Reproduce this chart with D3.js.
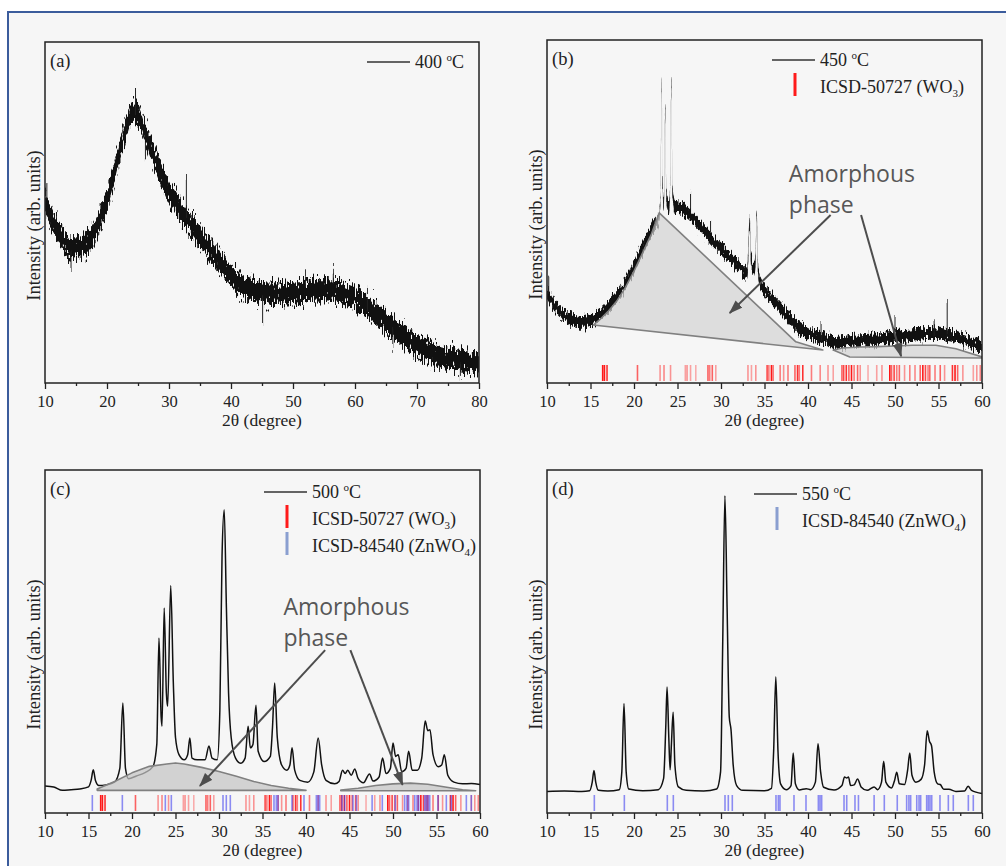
<!DOCTYPE html>
<html>
<head>
<meta charset="utf-8">
<script src="https://cdn.jsdelivr.net/npm/d3@7"></script>
<style>
body { margin: 0; background: #fff; }
svg { display: block; }
</style>
</head>
<body>
<svg id="fig" width="1006" height="866"></svg>
<script>
/** Tick values of the 2theta axes */
var ticksA = [10, 20, 30, 40, 50, 60, 70, 80],
    minorA = [15, 25, 35, 45, 55, 65, 75],
    ticksB = [10, 15, 20, 25, 30, 35, 40, 45, 50, 55, 60],
    minorB = [12.5, 17.5, 22.5, 27.5, 32.5, 37.5, 42.5, 47.5, 52.5, 57.5];

/** (a) 400 C : mean of the noisy trace [2theta, intensity] */
var meanA = [[10,53.7],[11,48.4],[12,44.9],[13,41.9],[14,39.9],[15,39.6],[16,40.5],[17,41.9],[18,44.3],
  [19,48.4],[20,53.7],[21,60.4],[22,67.4],[23,74.2],[24,79.2],[25,78.6],[26,74.2],[27,69.2],[28,64.5],
  [29,60.1],[30,56],[31,53.1],[32,50.1],[33,47.8],[34,45.5],[35,42.8],[36,40.5],[37,38.4],[38,36.1],
  [39,33.7],[40,31.7],[41,29.6],[42,28.2],[43,27.6],[44,27],[45,26.7],[46,26.4],[48,26.4],[50,26.4],
  [52,26.7],[54,27.3],[56,27.3],[58,26.4],[60,24.9],[62,22.3],[64,19.4],[66,16.4],[68,13.5],[70,11.1],
  [72,9.1],[74,7.6],[76,7],[78,6.2],[80,5.9]];
/** (a) single spikes of the trace [2theta, from, to] */
var spikesA = [[10.3,54,59.5],[14.2,38,33],[24.6,80,87],[26.2,72,65],[32.8,49,61],[45.1,26,18],
  [52,27,31],[56.5,28,32.6],[62,22,27],[66.1,16,9.7],[77,6,1.5]];
var noiseA = 3.1;

/** (b) 450 C */
var meanB = [[10,26.2],[11,22.2],[12,19.8],[13,18.4],[14,17.8],[15,18.4],[16,19.8],[17,22.2],[18,25.1],
  [19,29],[20,33.8],[21,39.3],[22,44.6],[22.9,48.4],[23.05,55],[23.2,87.5],[23.3,58],[23.45,52],
  [23.6,80.5],[23.75,54],[24.0,51],[24.15,56],[24.3,87.5],[24.45,56],[24.7,51],[25,51.3],[26,49.9],
  [27,47.5],[28,44.6],[29,41.7],[30,39.3],[31,36.7],[32,34.4],[33,32],[33.15,38],[33.3,47],[33.45,36],
  [33.8,33],[34.0,38],[34.1,49.6],[34.25,34],[34.5,29.4],[35,27.1],[36,24.2],[37,21.3],[38,18.4],
  [39,16],[40,14.6],[41,13.4],[42,13],[43,11.7],[44,12],[46,12.5],[48,12.7],[50,13.4],[52,14],
  [54,14.6],[56,14],[58,12.5],[60,10.5]];
var spikesB = [[10.2,26,31],[26.5,50,55.7],[28.8,44,47.5],[41.5,13,17.5],[50,13,19.3],[54.5,14,18],[56,14,24.2]];
var noiseB = 1.7;
/** (b) amorphous phase outlines */
var amorB1 = [[15.3,16.9],[16,18.3],[17,20.8],[18,23.8],[19,27.8],[20,32.6],[21,38],[22,43.4],[22.9,49.6],[38.6,12],[41.7,9.6]];
var amorB2 = [[42.9,9.6],[44,10.2],[46,10.5],[48,10.6],[50,10.8],[52,11],[54.7,11],[57,10],[60,7.6],[60,7.3],[44.8,7.6]];

/** (c) 500 C */
var lineC = [[10,7.9],[11,7.6],[12,6.6],[13,6.8],[14,7],[15,7.6],[15.3,9.5],[15.55,12.6],[15.8,9.5],[16.2,8],
  [17,8.2],[18,9],[18.6,13],[18.95,32.1],[19.25,13],[19.6,10],[20.5,10.8],[21.5,11.8],[22.4,13.5],
  [22.85,20],[23.1,51],[23.35,28],[23.45,25.3],[23.7,59.8],[23.95,35],[24.1,31.1],[24.45,66.3],
  [24.75,38],[25.0,22],[25.4,17],[26.0,15.5],[26.4,17],[26.65,21.9],[26.9,16],[27.5,15.5],[28.4,15.5],
  [28.85,19.5],[29.2,16],[29.8,15.5],[30.1,30],[30.35,75],[30.6,88.4],[30.85,60],[31.1,35],[31.4,22],
  [31.9,16],[32.5,14.5],[33.0,16],[33.35,25.3],[33.6,19],[33.9,20],[34.25,31.4],[34.5,18],[35.2,15],
  [35.9,16.5],[36.15,25],[36.4,37.9],[36.7,22],[37.2,14],[37.8,12.5],[38.15,14],[38.4,19],[38.7,12.5],
  [39.3,9.5],[40.2,9],[40.9,12],[41.4,21.9],[41.8,14],[42.3,9.5],[43.3,8.5],[43.8,9.2],[44.2,12.5],
  [44.5,11.5],[44.8,12.5],[45.2,11],[45.6,12.8],[46.0,10],[46.6,8.8],[47.3,11.4],[47.7,9.3],[48.4,10.5],
  [48.8,16],[49.2,11.5],[49.7,13],[50.0,20.4],[50.3,16.5],[50.6,17],[51.0,12],[51.5,13],[51.8,18],
  [52.2,12.5],[52.8,12.5],[53.3,16],[53.7,26.8],[54.0,24],[54.25,24.3],[54.6,17],[55.2,13.5],[55.6,14],
  [55.9,17],[56.3,11],[57,9],[58,8.5],[59,8.6],[60,8.3]];
var amorC1 = [[16,7.0],[18,9.2],[20,11.7],[22,13.6],[24,14.3],[25,14.6],[26,14.3],[28,13.3],[30,12.1],
  [32,10.7],[34,9.2],[36,8.0],[38,7.2],[40,6.6],[16,6.6]];
var amorC2 = [[44,6.7],[46,7.2],[48,8.0],[50,8.5],[52,8.7],[54,8.4],[56,7.6],[58,6.8],[59.5,6.5],[44,6.5]];

/** (d) 550 C */
var lineD = [[10,6.3],[12,6.4],[14,6.3],[14.9,6.5],[15.2,9],[15.4,12.4],[15.6,9],[15.9,6.6],[17,6.4],
  [18.3,6.8],[18.6,12],[18.85,31.9],[19.1,12],[19.4,7],[21,6.5],[22.8,6.8],[23.4,10],[23.65,25],
  [23.8,36.7],[24.0,22],[24.15,12.6],[24.3,20],[24.5,29.4],[24.7,14],[25.1,7.6],[26,6.6],[28,6.4],
  [29.5,7],[29.95,12],[30.2,50],[30.45,92.5],[30.7,60],[30.95,28],[31.15,24.3],[31.4,14],[31.8,8],
  [32.5,6.6],[35,6.5],[35.8,7.2],[36.05,18],[36.3,39.7],[36.55,18],[36.85,8.5],[37.5,6.8],[38.05,8],
  [38.3,17.5],[38.55,8.5],[39,6.7],[39.8,7.1],[40.3,6.8],[40.85,9],[41.15,20.2],[41.45,12],[41.8,7.5],
  [43,6.7],[43.9,8],[44.2,10.5],[44.45,10.2],[44.65,10.5],[44.9,8],[45.3,8.2],[45.7,9.9],[46.1,7.6],
  [46.8,6.6],[47.6,7.6],[48,6.8],[48.45,9],[48.7,15.1],[48.95,9],[49.6,7.3],[49.95,9.5],[50.2,11.9],
  [50.5,8.5],[51.1,8.3],[51.45,12.5],[51.7,17.5],[51.95,11],[52.4,9],[53,9.8],[53.4,14],[53.7,24],
  [53.95,21],[54.2,19.6],[54.5,12],[54.9,8.5],[55.2,8.3],[55.6,6.9],[56.2,6.9],[57,6.3],[58,6.4],
  [58.4,7.8],[58.8,6.6],[60,5.7]];

/** ICSD-50727 (WO3) reference lines and their relative strength */
var wo3Pos = [16.4,16.6,16.9,20.4,23.0,23.45,24.2,25.9,26.1,26.5,27.1,28.5,28.7,29.0,29.4,33.1,33.5,34.0,
  35.3,35.5,35.8,36.0,36.8,37.2,37.7,38.5,38.8,39.0,39.4,40.4,41.4,42.3,42.9,43.9,44.1,44.4,44.7,45.0,
  45.3,45.7,46.0,46.9,47.9,48.5,49.4,49.6,49.9,50.2,50.5,51.1,51.7,52.3,52.9,53.2,53.5,53.8,54.0,54.6,
  55.2,55.7,56.6,56.9,57.2,57.8,59.0,59.4,59.8];
var wo3Int = [0.9,0.9,0.8,0.6,0.4,0.45,0.4,0.35,0.4,0.35,0.3,0.6,0.5,0.6,0.35,0.4,0.35,0.4,
  0.7,0.5,0.9,0.5,0.5,0.4,0.5,0.6,0.8,0.5,0.8,0.5,0.45,0.4,0.35,0.6,0.7,0.8,0.6,0.9,
  0.5,0.6,0.4,0.3,0.35,0.4,0.9,0.6,0.7,0.5,0.6,0.4,0.5,0.45,0.6,0.9,0.7,0.5,0.6,0.5,
  0.6,0.4,0.8,0.9,0.6,0.4,0.35,0.4,0.45];
/** ICSD-84540 (ZnWO4) reference lines */
var znwo4Pos = [15.44,18.89,23.83,24.52,30.46,30.84,31.3,36.32,36.59,36.78,38.39,39.77,41.19,41.38,41.57,
  44.14,44.45,45.4,45.8,47.6,48.77,50.26,51.34,51.6,51.8,52.5,52.76,52.95,53.64,53.83,54.02,54.22,
  55.17,56.13,56.7,58.43,59.0];

var serif = '"Liberation Serif", "Times New Roman", serif',
    sans = '"Open Sans", "Noto Sans", sans-serif';

var svg = d3.select('#fig');
var defs = svg.append('defs');

svg.append('rect').attr('width', 1006).attr('height', 866).attr('fill', '#fff');
svg.append('rect').attr('x', 8).attr('y', 12).attr('width', 1010).attr('height', 870)
    .attr('fill', '#f6f6f6').attr('stroke', '#3b5c9c').attr('stroke-width', 2);

/** noise texture for the amorphous traces (style only) */
function noiseFilter(id, scale) {
    var f = defs.append('filter').attr('id', id)
        .attr('x', '-2%').attr('y', '-15%').attr('width', '104%').attr('height', '130%')
        .attr('color-interpolation-filters', 'sRGB');
    f.append('feTurbulence').attr('type', 'fractalNoise').attr('baseFrequency', '0.9 0.12')
        .attr('numOctaves', 2).attr('seed', 7).attr('result', 'turb');
    f.append('feColorMatrix').attr('in', 'turb').attr('type', 'matrix')
        .attr('values', '0 0 0 0 0.5  0 1 0 0 0  0 0 0 0 0  0 0 0 0 1').attr('result', 'disp');
    f.append('feDisplacementMap').attr('in', 'SourceGraphic').attr('in2', 'disp').attr('scale', scale)
        .attr('xChannelSelector', 'R').attr('yChannelSelector', 'G');
}
noiseFilter('noiseA', 30);
noiseFilter('noiseB', 18);

defs.append('marker').attr('id', 'arrow').attr('viewBox', '0 0 14 10')
    .attr('refX', 13).attr('refY', 5).attr('markerWidth', 14).attr('markerHeight', 10)
    .attr('markerUnits', 'userSpaceOnUse').attr('orient', 'auto')
    .append('path').attr('d', 'M0,0 L14,5 L0,10 Z').attr('fill', '#4d4d4d');

/**
 * Creates the frame, axis and labels of one panel and returns its scales.
 */
function createPanel(id, box, xDomain, major, minor, label) {
    var g = svg.append('g');
    var x = d3.scaleLinear().domain(xDomain).range([box.left, box.right]);
    var y = d3.scaleLinear().domain([0, 100]).range([box.bottom, box.top]);

    defs.append('clipPath').attr('id', 'clip' + id).append('rect')
        .attr('x', box.left).attr('y', box.top)
        .attr('width', box.right - box.left).attr('height', box.bottom - box.top);

    var plot = g.append('g').attr('clip-path', 'url(#clip' + id + ')');

    var minorAxis = d3.axisBottom(x).tickValues(minor).tickSize(3).tickFormat('');
    var majorAxis = d3.axisBottom(x).tickValues(major).tickSize(6).tickFormat(d3.format('d'));

    var ax1 = g.append('g').attr('transform', 'translate(0,' + box.bottom + ')').call(minorAxis);
    ax1.select('.domain').remove();
    var ax2 = g.append('g').attr('transform', 'translate(0,' + box.bottom + ')').call(majorAxis);
    ax2.select('.domain').remove();
    g.selectAll('.tick line').attr('stroke', '#222').attr('stroke-width', 1.3);
    ax2.attr('font-family', serif).attr('font-size', 16.5);
    ax2.selectAll('text').attr('y', 12).attr('fill', '#222');

    g.append('rect').attr('x', box.left).attr('y', box.top)
        .attr('width', box.right - box.left).attr('height', box.bottom - box.top)
        .attr('fill', 'none').attr('stroke', '#222').attr('stroke-width', 1.5);

    g.append('text').attr('x', (box.left + box.right) / 2).attr('y', box.bottom + 43)
        .attr('text-anchor', 'middle').attr('font-family', serif).attr('font-size', 17.5).attr('fill', '#222')
        .text('2θ (degree)');

    g.append('text')
        .attr('transform', 'translate(' + (box.left - 5) + ',' + ((box.top + box.bottom) / 2 + 13) + ') rotate(-90)')
        .attr('text-anchor', 'middle').attr('font-family', serif).attr('font-size', 18.5).attr('fill', '#222')
        .text('Intensity (arb. units)');

    g.append('text').attr('x', box.left + 5).attr('y', box.top + 25)
        .attr('font-family', serif).attr('font-size', 18.5).attr('fill', '#222').text(label);

    return {g: g, plot: plot, x: x, y: y, box: box};
}

/** noisy trace drawn as a textured band */
function noisyTrace(p, mean, spikes, amp, filterId) {
    var band = d3.area()
        .x(function (d) { return p.x(d[0]); })
        .y0(function (d) { return p.y(d[1] - amp); })
        .y1(function (d) { return p.y(d[1] + amp); })
        .curve(d3.curveMonotoneX);
    var tg = p.plot.append('g').attr('filter', 'url(#' + filterId + ')');
    tg.append('path').datum(mean).attr('d', band).attr('fill', '#111');
    tg.selectAll(null).data(spikes).enter().append('line')
        .attr('x1', function (d) { return p.x(d[0]); })
        .attr('x2', function (d) { return p.x(d[0]); })
        .attr('y1', function (d) { return p.y(d[1]); })
        .attr('y2', function (d) { return p.y(d[2]); })
        .attr('stroke', '#222').attr('stroke-width', 1);
}

function trace(p, pts) {
    var line = d3.line()
        .x(function (d) { return p.x(d[0]); })
        .y(function (d) { return p.y(d[1]); })
        .curve(d3.curveMonotoneX);
    p.plot.append('path').datum(pts).attr('d', line)
        .attr('fill', 'none').attr('stroke', '#111').attr('stroke-width', 1.5);
}

function amorphous(p, poly, fill) {
    var line = d3.line()
        .x(function (d) { return p.x(d[0]); })
        .y(function (d) { return p.y(d[1]); });
    p.plot.append('path').datum(poly).attr('d', line(poly) + 'Z')
        .attr('fill', fill).attr('fill-opacity', 0.72)
        .attr('stroke', '#808080').attr('stroke-width', 1.6).attr('stroke-linejoin', 'round');
}

function refLines(p, pos, strength, color, opacity) {
    p.plot.selectAll(null).data(pos).enter().append('line')
        .attr('x1', function (d) { return p.x(d); })
        .attr('x2', function (d) { return p.x(d); })
        .attr('y1', p.box.bottom - 2)
        .attr('y2', p.box.bottom - 18)
        .attr('stroke', color).attr('stroke-width', 1.6)
        .attr('stroke-opacity', function (d, i) { return strength ? strength[i] : opacity; });
}

function annotate(p, tx, ty1, ty2, arrows) {
    var t = p.g.append('text').attr('font-family', sans).attr('font-size', 23).attr('fill', '#575757');
    t.append('tspan').attr('x', p.x(tx)).attr('y', p.y(ty1)).text('Amorphous');
    t.append('tspan').attr('x', p.x(tx)).attr('y', p.y(ty2)).text('phase');
    arrows.forEach(function (a) {
        p.g.append('line')
            .attr('x1', p.x(a[0])).attr('y1', p.y(a[1]))
            .attr('x2', p.x(a[2])).attr('y2', p.y(a[3]))
            .attr('stroke', '#4d4d4d').attr('stroke-width', 2).attr('marker-end', 'url(#arrow)');
    });
}

/** legend: a list of rows {type, text, sub} */
function legend(p, lx, ly, rows) {
    rows.forEach(function (r, i) {
        var yy = ly + i * 27;
        if (r.type === 'line') {
            p.g.append('line').attr('x1', lx - 48).attr('x2', lx - 5).attr('y1', yy - 6).attr('y2', yy - 6)
                .attr('stroke', '#333').attr('stroke-width', 1.3);
        } else {
            p.g.append('line').attr('x1', lx - 25).attr('x2', lx - 25).attr('y1', yy - 20).attr('y2', yy + 3)
                .attr('stroke', r.type).attr('stroke-width', 3);
        }
        var t = p.g.append('text').attr('x', lx).attr('y', yy)
            .attr('font-family', serif).attr('font-size', 18).attr('fill', '#222');
        if (r.deg) {
            t.append('tspan').text(r.text + ' ');
            t.append('tspan').attr('font-size', 11).attr('dy', -7).text('o');
            t.append('tspan').attr('dy', 7).text('C');
        } else {
            t.append('tspan').text(r.text);
            t.append('tspan').attr('font-size', 11).attr('dy', 4).text(r.sub);
            t.append('tspan').attr('dy', -4).text(')');
        }
    });
}

/** Panel (a) */
var pa = createPanel('a', {left: 45, top: 42, right: 479, bottom: 383}, [10, 80], ticksA, minorA, '(a)');
noisyTrace(pa, meanA, spikesA, noiseA, 'noiseA');
legend(pa, 415, 68, [{type: 'line', text: '400', deg: true}]);

/** Panel (b) */
var pb = createPanel('b', {left: 547, top: 40, right: 982, bottom: 383}, [10, 60], ticksB, minorB, '(b)');
noisyTrace(pb, meanB, spikesB, noiseB, 'noiseB');
amorphous(pb, amorB1, '#d2d2d2');
amorphous(pb, amorB2, '#d2d2d2');
refLines(pb, wo3Pos, wo3Int, '#ff0000');
annotate(pb, 37.8, 58.6, 49.6, [[42.6, 49.0, 31.0, 20.4], [46.1, 49.0, 50.7, 7.8]]);
legend(pb, 820, 66, [{type: 'line', text: '450', deg: true},
    {type: '#ff1a1a', text: 'ICSD-50727 (WO', sub: '3'}]);

/** Panel (c) */
var pc = createPanel('c', {left: 45, top: 470, right: 480, bottom: 813}, [10, 60], ticksB, minorB, '(c)');
trace(pc, lineC);
amorphous(pc, amorC1, '#c4c4c4');
amorphous(pc, amorC2, '#c4c4c4');
refLines(pc, wo3Pos, wo3Int, '#ff0000');
refLines(pc, znwo4Pos, null, '#3333ee', 0.55);
annotate(pc, 37.4, 57.7, 48.7, [[42.2, 47.5, 27.8, 7.9], [45.1, 47.5, 51.1, 8.2]]);
legend(pc, 312, 498, [{type: 'line', text: '500', deg: true},
    {type: '#ff1a1a', text: 'ICSD-50727 (WO', sub: '3'},
    {type: '#8a9fd0', text: 'ICSD-84540 (ZnWO', sub: '4'}]);

/** Panel (d) */
var pd = createPanel('d', {left: 547, top: 470, right: 982, bottom: 813}, [10, 60], ticksB, minorB, '(d)');
trace(pd, lineD);
refLines(pd, znwo4Pos, null, '#3333ee', 0.55);
legend(pd, 802, 500, [{type: 'line', text: '550', deg: true},
    {type: '#8a9fd0', text: 'ICSD-84540 (ZnWO', sub: '4'}]);
</script>
</body>
</html>
